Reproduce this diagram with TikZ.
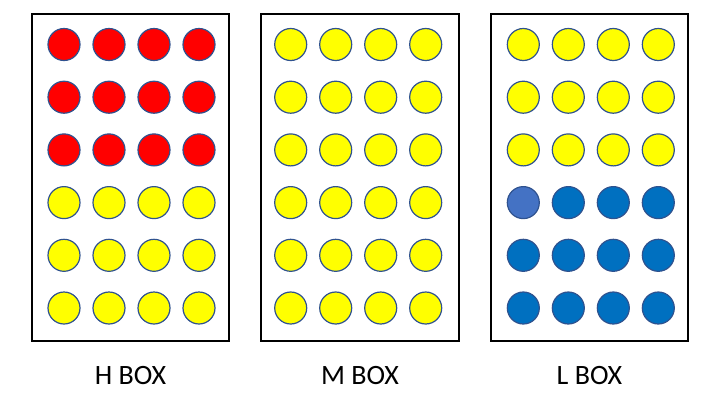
\documentclass[tikz,border=0pt]{standalone}
\usepackage{fontspec}
\setmainfont{Carlito}
\usetikzlibrary{positioning}
\definecolor{ballred}{HTML}{FF0000}
\definecolor{ballyellow}{HTML}{FFFF00}
\definecolor{ballblue}{HTML}{0070C0}
\definecolor{balllight}{HTML}{4472C4}
\definecolor{ballrim}{HTML}{2F528F}
\tikzset{
  boxframe/.style={draw, line width=2pt, minimum width=197pt, minimum height=327pt, inner sep=0pt},
  ball/.style={circle, draw=ballrim, line width=1.2pt, minimum size=32pt, inner sep=0pt},
  boxlabel/.style={font=\fontsize{28}{34}\selectfont, inner sep=0pt}
}
\begin{document}
\begin{tikzpicture}[x=1pt, y=-1pt]
  \useasboundingbox (0,0) rectangle (720,405);
  \node[boxframe] (hbox) at (130.5,177.5) {};
  \node[boxframe, minimum width=198pt] (mbox) at (360,177.5) {};
  \node[boxframe] (lbox) at (589.5,177.5) {};
  \node[boxlabel] (hlabel) at (130.5,376) {H BOX};
  \node[boxlabel] (mlabel) at (360,376) {M BOX};
  \node[boxlabel] (llabel) at (589.5,376) {L BOX};
  % H box
  \foreach \r in {1,2,3} \foreach \c in {1,...,4}
    \node[ball, fill=ballred] (h\r\c) at ({19+45*\c}, {44.5+52.7*(\r-1)}) {};
  \foreach \r in {4,5,6} \foreach \c in {1,...,4}
    \node[ball, fill=ballyellow] (h\r\c) at ({19+45*\c}, {44.5+52.7*(\r-1)}) {};
  % M box
  \foreach \r in {1,...,6} \foreach \c in {1,...,4}
    \node[ball, fill=ballyellow] (m\r\c) at ({245.7+45*\c}, {44.5+52.7*(\r-1)}) {};
  % L box
  \foreach \r in {1,2,3} \foreach \c in {1,...,4}
    \node[ball, fill=ballyellow] (l\r\c) at ({478.3+45*\c}, {44.5+52.7*(\r-1)}) {};
  \node[ball, fill=balllight] (l41) at (523.3,202.6) {};
  \foreach \c in {2,3,4}
    \node[ball, fill=ballblue] (l4\c) at ({478.3+45*\c}, 202.6) {};
  \foreach \r in {5,6} \foreach \c in {1,...,4}
    \node[ball, fill=ballblue] (l\r\c) at ({478.3+45*\c}, {44.5+52.7*(\r-1)}) {};
\end{tikzpicture}
\end{document}
